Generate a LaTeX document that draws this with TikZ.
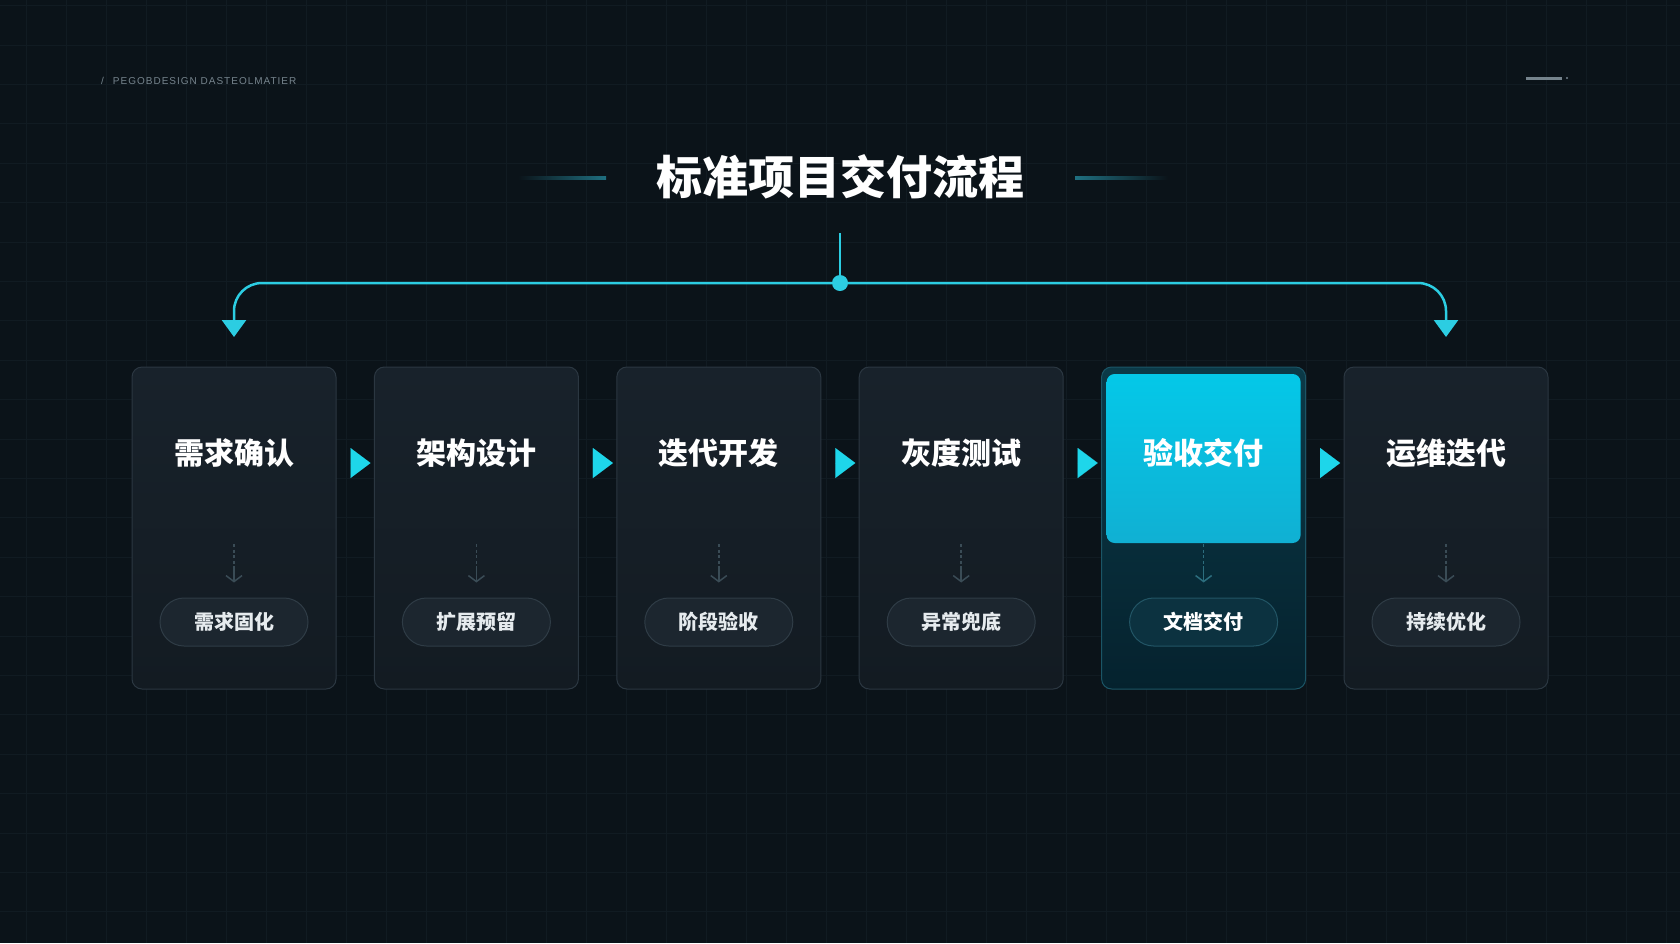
\documentclass[tikz,border=0pt]{standalone}
\usepackage{fontspec}
\setmainfont{Liberation Sans}
\newfontfamily\cjk{Noto Sans CJK SC}
\newfontfamily\hdrfont[LetterSpace=10]{Liberation Sans}
\usetikzlibrary{positioning,arrows.meta,calc}

\definecolor{bgcol}{HTML}{0B1319}
\definecolor{gridcol}{HTML}{111B22}
\definecolor{cardtop}{HTML}{18222B}
\definecolor{cardbot}{HTML}{131B22}
\definecolor{cardline}{HTML}{2B3741}
\definecolor{pillfill}{HTML}{1C262F}
\definecolor{pillline}{HTML}{2F3C46}
\definecolor{pilltext}{HTML}{E6EBEE}
\definecolor{linkcol}{HTML}{3A4C56}
\definecolor{flowcyan}{HTML}{2CCDE2}
\definecolor{tricyan}{HTML}{1ED6EA}
\definecolor{decoteal}{HTML}{1F6F80}
\definecolor{hdrgray}{HTML}{76848D}
\definecolor{hottop}{HTML}{0B3A48}
\definecolor{hotbot}{HTML}{05222E}
\definecolor{hotline}{HTML}{1B5566}
\definecolor{hotboxtop}{HTML}{04C8E8}
\definecolor{hotboxbot}{HTML}{10B0D3}
\definecolor{hotpillfill}{HTML}{0C3240}
\definecolor{hotpillline}{HTML}{225565}
\definecolor{hotlinkcol}{HTML}{2C6E7E}

\tikzset{
  gridline/.style={draw=gridcol, line width=1},
  hdr/.style={text=hdrgray, font=\hdrfont\fontsize{10}{12}\selectfont, inner sep=0},
  dashmark/.style={draw=hdrgray, line width=3},
  maintitle/.style={text=white, font=\cjk\bfseries\fontsize{46}{55}\selectfont, inner sep=0},
  hub/.style={circle, fill=flowcyan, minimum size=16, inner sep=0},
  flowline/.style={draw=flowcyan, line width=2.5},
  branch/.style={rounded corners=28, -{Triangle[length=17pt,width=24pt]}},
  card/.style={draw=cardline, line width=1, rounded corners=10,
    minimum width=204, minimum height=322, top color=cardtop, bottom color=cardbot},
  hotcard/.style={card, draw=hotline, top color=hottop, bottom color=hotbot},
  hotbox/.style={rounded corners=8, minimum width=194, minimum height=169,
    top color=hotboxtop, bottom color=hotboxbot},
  steptitle/.style={text=white, font=\cjk\bfseries\fontsize{30}{36}\selectfont, inner sep=0},
  pill/.style={draw=pillline, line width=1, fill=pillfill, rounded corners=24,
    minimum width=148, minimum height=48, inner sep=0, text=pilltext,
    font=\cjk\bfseries\fontsize{20}{24}\selectfont},
  hotpill/.style={pill, draw=hotpillline, fill=hotpillfill, text=white},
  link/.style={draw=linkcol, line width=1.5},
  hotlink/.style={link, draw=hotlinkcol},
  steparrow/.style={draw=tricyan, fill=tricyan, line width=0.01,
    shorten <=15, shorten >=3.4, -{Triangle[length=20pt,width=30pt]}}
}

\begin{document}
\begin{tikzpicture}[x=1pt,y=-1pt]
  \useasboundingbox (0,0) rectangle (1680,943);
  % background grid
  \fill[bgcol] (0,0) rectangle (1680,943);
  \foreach \k in {0,...,41}
    \draw[gridline] ({26.7+40*\k},0) -- ({26.7+40*\k},943);
  \foreach \k in {0,...,23}
    \draw[gridline] (0,{5.6+39.4*\k}) -- (1680,{5.6+39.4*\k});

  % header marks
  \node[hdr, anchor=west] (tag) at (101,81) {/\hspace{9pt}PEGOBDESIGN DASTEOLMATIER};
  \draw[dashmark] (1526,78) -- (1562,78);
  \fill[hdrgray] (1567,78) circle (1.2);

  % title
  \node[maintitle] (title) at (840,177) {标准项目交付流程};
  \shade[left color=bgcol, right color=decoteal] (518,176.5) rectangle (606,179.5);
  \shade[left color=decoteal, right color=bgcol] (1075,176.5) rectangle (1168,179.5);

  % hub and branches
  \coordinate (stem) at (840,233);
  \node[hub] (hub) at (840,283) {};
  \coordinate (in1) at (234,337);
  \coordinate (in6) at (1446,337);
  \draw[flowline, line width=2] (stem) -- (hub);
  \draw[flowline, branch] (hub) -| (in1);
  \draw[flowline, branch] (hub) -| (in6);

  % cards
  \foreach \i/\cardsty/\pillsty/\linksty/\name/\sub in {
      1/card/pill/link/需求确认/需求固化,
      2/card/pill/link/架构设计/扩展预留,
      3/card/pill/link/迭代开发/阶段验收,
      4/card/pill/link/灰度测试/异常兜底,
      5/hotcard/hotpill/hotlink/验收交付/文档交付,
      6/card/pill/link/运维迭代/持续优化} {
    \pgfmathsetmacro\cx{234+242.4*(\i-1)}
    \node[\cardsty] (c\i) at (\cx,528) {};
    \ifnum\i=5 \node[hotbox] (hot) at (\cx,458.5) {}; \fi
    \node[steptitle] (t\i) at (\cx,453) {\name};
    \node[\pillsty] (p\i) at (\cx,622) {\sub};
    \coordinate (d\i) at (\cx,544);
    \coordinate (m\i) at (\cx,567);
    \draw[\linksty, dash pattern=on 3pt off 2.5pt] (d\i) -- (m\i);
    \draw[\linksty, shorten >=15, -{Straight Barb[length=6pt,width=16pt]}] (m\i) -- (p\i);
  }

  % step arrows
  \foreach \i/\j in {1/2,2/3,3/4,4/5,5/6}
    \draw[steparrow] ([yshift=65]c\i.east) -- ([yshift=65]c\j.west);
\end{tikzpicture}
\end{document}
